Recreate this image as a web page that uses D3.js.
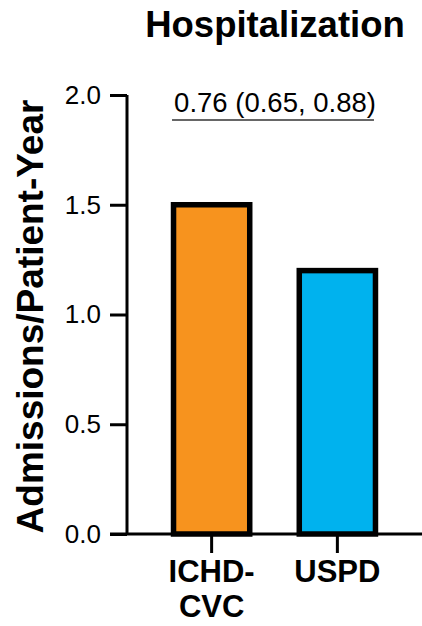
<!DOCTYPE html>
<html>
<head>
<meta charset="utf-8">
<script src="https://cdn.jsdelivr.net/npm/d3@7"></script>
<style>
  html, body { margin: 0; padding: 0; background: #fff; }
  text { font-family: "Liberation Sans", Arial, sans-serif; }
</style>
</head>
<body>
<div id="container"></div>
<script>
// Données
const categories = [["ICHD-", "CVC"], ["USPD"]];
const catKeys = ["ICHD-CVC", "USPD"];
const values = [1.5, 1.2];
const colors = ["#F7931E", "#00B2EE"];
const yTicks = [0, 0.5, 1.0, 1.5, 2.0];
const annotation = "0.76 (0.65, 0.88)";

const width = 422;
const height = 626;

const svg = d3.select("#container")
    .append("svg")
    .attr("width", width)
    .attr("height", height);

// Échelles
const xScale = d3.scaleBand()
    .domain(catKeys)
    .range([127, 422])
    .paddingInner(0.394)
    .paddingOuter(0.37);

const yScale = d3.scaleLinear()
    .domain([0, 2])
    .range([534, 95]);

// Titre
svg.append("text")
    .attr("x", 275)
    .attr("y", 37)
    .attr("text-anchor", "middle")
    .style("font-size", "36.5px")
    .style("font-weight", "bold")
    .text("Hospitalization");

// Titre axe Y
svg.append("text")
    .attr("transform", `translate(43,${(yScale(0) + yScale(2)) / 2 + 2}) rotate(-90)`)
    .attr("text-anchor", "middle")
    .style("font-size", "37px")
    .style("font-weight", "bold")
    .text("Admissions/Patient-Year");

// Barres
svg.selectAll(".bar")
    .data(values)
    .enter()
    .append("rect")
    .attr("class", "bar")
    .attr("x", (d, i) => xScale(catKeys[i]))
    .attr("y", d => yScale(d))
    .attr("width", xScale.bandwidth())
    .attr("height", d => yScale(0) - yScale(d))
    .attr("fill", (d, i) => colors[i])
    .attr("stroke", "#000")
    .attr("stroke-width", 5.5);

// Axe Y
const yAxis = svg.append("g")
    .attr("transform", "translate(127,0)")
    .call(d3.axisLeft(yScale).tickValues(yTicks).tickFormat(d3.format(".1f")).tickSize(17).tickPadding(9));
yAxis.select(".domain").attr("stroke-width", 3).attr("d", `M0,${yScale(2)}V${yScale(0)}`);
yAxis.selectAll(".tick line").attr("stroke-width", 3);
yAxis.selectAll(".tick text")
    .style("font-size", "26px")
    .attr("fill", "#000")
    .style("font-family", "'Liberation Sans', Arial, sans-serif");

// Axe X
const xAxis = svg.append("g")
    .attr("transform", `translate(0,${yScale(0)})`)
    .call(d3.axisBottom(xScale).tickSize(19).tickFormat(""));
xAxis.select(".domain").attr("stroke-width", 3).attr("d", `M110,0H422`);
xAxis.selectAll(".tick line").attr("stroke-width", 3);

// Étiquettes des catégories
catKeys.forEach((k, i) => {
    const t = svg.append("text")
        .attr("x", xScale(k) + xScale.bandwidth() / 2)
        .attr("y", 582)
        .attr("text-anchor", "middle")
        .style("font-size", "31px")
        .style("font-weight", "bold");
    categories[i].forEach((line, j) => {
        t.append("tspan")
            .attr("x", xScale(k) + xScale.bandwidth() / 2)
            .attr("dy", j === 0 ? 0 : 35)
            .text(line);
    });
});

// Annotation
const x1 = xScale(catKeys[0]) - 1.5;
const x2 = xScale(catKeys[1]) + xScale.bandwidth() - 1.5;
svg.append("line")
    .attr("x1", x1)
    .attr("x2", x2)
    .attr("y1", 120)
    .attr("y2", 120)
    .attr("stroke", "#333")
    .attr("stroke-width", 1.5);

svg.append("text")
    .attr("x", (x1 + x2) / 2 + 2)
    .attr("y", 112)
    .attr("text-anchor", "middle")
    .style("font-size", "27.5px")
    .text(annotation);
</script>
</body>
</html>
